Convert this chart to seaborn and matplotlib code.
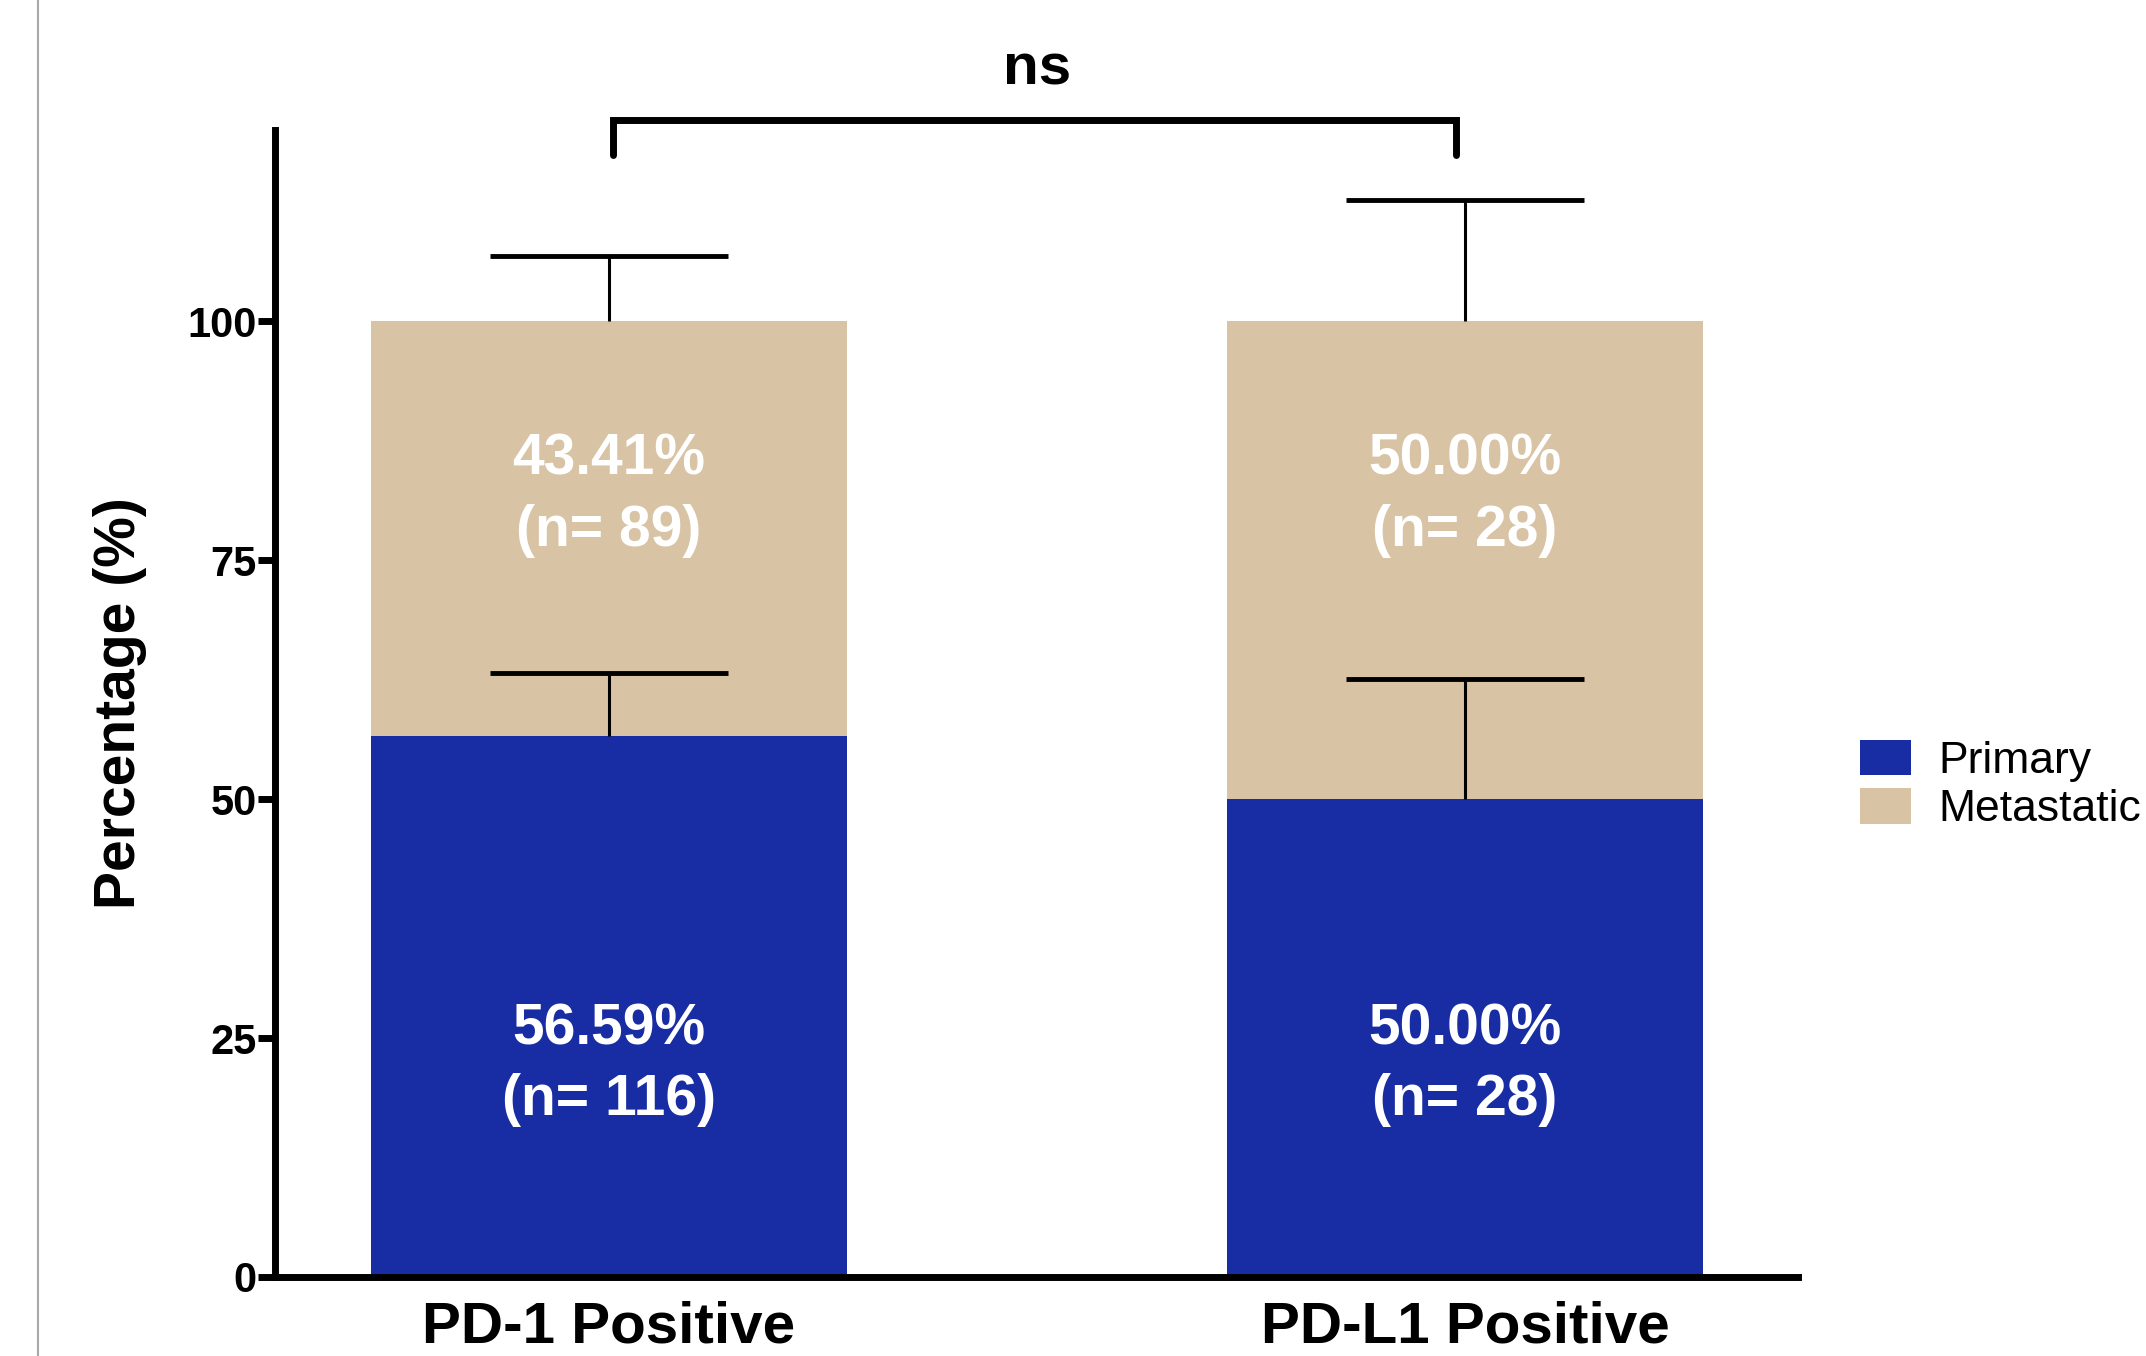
import matplotlib
matplotlib.use("Agg")
import matplotlib.pyplot as plt
import seaborn as sns
import pandas as pd
from matplotlib.lines import Line2D
from matplotlib.patches import Patch

# Datos
groups = ["PD-1 Positive", "PD-L1 Positive"]
primary_pct = [56.59, 50.00]
metastatic_pct = [43.41, 50.00]
primary_n = [116, 28]
metastatic_n = [89, 28]
primary_err = [6.6, 12.6]
total_err = [6.8, 12.7]
series = ["Primary", "Metastatic"]

blue = "#182DA3"
tan = "#D9C3A5"

df = pd.DataFrame({
    "group": groups,
    "primary": primary_pct,
    "metastatic": metastatic_pct,
})
df["total"] = df["primary"] + df["metastatic"]

sns.set_style("ticks")
plt.rcParams["font.family"] = ["Liberation Sans", "DejaVu Sans"]
plt.rcParams.update({"text.color": "black", "axes.labelcolor": "black",
                     "xtick.color": "black", "ytick.color": "black",
                     "axes.edgecolor": "black"})

fig = plt.figure(figsize=(21.46, 13.56), dpi=100)
ax = fig.add_axes([0.1281, 0.0583, 0.7097, 0.8458])

# barras apiladas: total (metastasico) detras, primario delante
sns.barplot(data=df, x="group", y="total", color=tan, width=0.556,
            saturation=1, linewidth=0, ax=ax, zorder=2)
sns.barplot(data=df, x="group", y="primary", color=blue, width=0.556,
            saturation=1, linewidth=0, ax=ax, zorder=2)

xs = list(range(len(groups)))
for base, err in [(df["primary"], primary_err), (df["total"], total_err)]:
    cont = ax.errorbar(xs, base, yerr=[[0] * len(xs), err], fmt="none",
                       ecolor="black", elinewidth=2.2, capsize=86, capthick=3.5,
                       zorder=3)
    # solo la tapa superior
    caps = cont[1]
    lows = [c for c in caps if list(c.get_ydata()) == list(base)]
    for c in lows:
        c.set_visible(False)

# etiquetas dentro de las barras
for i in xs:
    ax.text(i, 22.2, f"{primary_pct[i]:.2f}%\n(n= {primary_n[i]})", color="white",
            ha="center", va="center", fontsize=41, fontweight="bold",
            linespacing=1.4, zorder=4)
    ax.text(i, 81.8, f"{metastatic_pct[i]:.2f}%\n(n= {metastatic_n[i]})", color="white",
            ha="center", va="center", fontsize=41, fontweight="bold",
            linespacing=1.4, zorder=4)

# corchete de significancia
ax.plot([0.005, 0.005, 0.99, 0.99], [117.4, 121, 121, 117.4], color="black",
        lw=5, clip_on=False, solid_joinstyle="miter", zorder=5)
ax.text(0.5, 126.3, "ns", ha="center", va="center", fontsize=42,
        fontweight="bold", clip_on=False)

ax.set_xlim(-0.39, 1.389)
ax.set_ylim(0, 120)
ax.set_yticks([0, 25, 50, 75, 100])
ax.set_xlabel("")
ax.set_ylabel("Percentage (%)", fontsize=41, fontweight="bold", labelpad=29)
sns.despine(ax=ax)
for s in ["left", "bottom"]:
    ax.spines[s].set_linewidth(5)
    ax.spines[s].set_zorder(6)
ax.tick_params(axis="y", length=12, width=5, pad=1, labelsize=30)
ax.tick_params(axis="x", length=0, pad=17, labelsize=42)
for lab in ax.get_xticklabels() + ax.get_yticklabels():
    lab.set_fontweight("bold")

handles = [Patch(facecolor=blue, edgecolor="none"), Patch(facecolor=tan, edgecolor="none")]
fig.legend(handles, series, loc="center left", bbox_to_anchor=(0.8667, 0.421),
           frameon=False, fontsize=32, handlelength=1.16, handleheight=0.84,
           handletextpad=0.6, labelspacing=0.15, borderpad=0, borderaxespad=0)

# linea gris del borde izquierdo
fig.add_artist(Line2D([38 / 2146, 38 / 2146], [0, 1], transform=fig.transFigure,
                      color="#a8a8a8", lw=1.5))

fig.savefig("out.png", dpi=100)
